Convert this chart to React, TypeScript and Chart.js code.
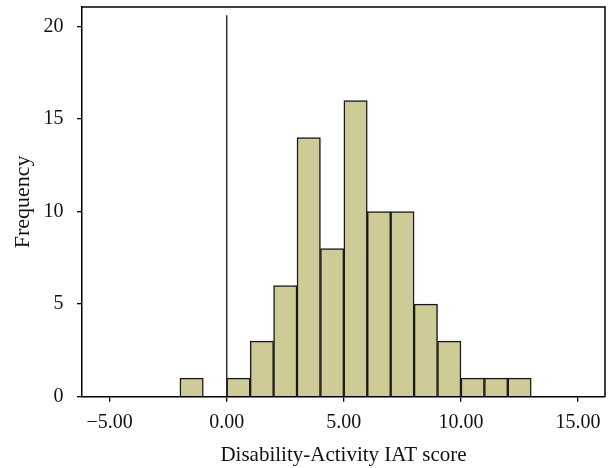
import React, { useEffect, useRef } from "react";
import { Chart, registerables } from "chart.js";

Chart.register(...registerables);

const binCenters = [-1.5, 0.5, 1.5, 2.5, 3.5, 4.5, 5.5, 6.5, 7.5, 8.5, 9.5, 10.5, 11.5, 12.5];
const frequencies = [1, 1, 3, 6, 14, 8, 16, 10, 10, 5, 3, 1, 1, 1];
const xTicks = [-5, 0, 5, 10, 15];
const yTicks = [0, 5, 10, 15, 20];
const refLineX = [0, 0];
const refLineY = [0, 20.6];
const xRange = [-6.18, 16.15];
const yRange = [0, 21.05];

const FONT = "'Liberation Serif', 'Times New Roman', serif";

const framePlugin = {
  id: "frame",
  afterDraw(chart: any) {
    const { ctx, chartArea } = chart;
    ctx.save();
    ctx.strokeStyle = "#000";
    ctx.lineWidth = 1.5;
    ctx.beginPath();
    ctx.moveTo(chartArea.left, chartArea.top);
    ctx.lineTo(chartArea.right, chartArea.top);
    ctx.lineTo(chartArea.right, chartArea.bottom);
    ctx.stroke();
    ctx.restore();
  },
};

export default function App() {
  const ref = useRef<HTMLCanvasElement | null>(null);

  useEffect(() => {
    document.body.style.margin = "0";
    const canvas = ref.current;
    if (!canvas) return;
    const chart = new Chart(canvas, {
      type: "bar",
      data: {
        datasets: [
          {
            type: "line",
            data: refLineX.map((x, i) => ({ x, y: refLineY[i] })),
            borderColor: "#222",
            borderWidth: 1.4,
            pointRadius: 0,
            fill: false,
            order: 0,
          } as any,
          {
            type: "bar",
            data: binCenters.map((x, i) => ({ x, y: frequencies[i] })),
            backgroundColor: "#CECB97",
            borderColor: "#1a1a1a",
            borderWidth: 1.5,
            barPercentage: 1,
            categoryPercentage: 1,
            grouped: false,
            order: 1,
          } as any,
        ],
      },
      options: {
        animation: false,
        responsive: false,
        maintainAspectRatio: false,
        layout: { padding: { top: 7, right: 4, left: 0, bottom: 0 } },
        plugins: { legend: { display: false }, tooltip: { enabled: false } },
        scales: {
          x: {
            type: "linear",
            min: xRange[0],
            max: xRange[1],
            offset: false,
            afterBuildTicks: (s: any) => {
              s.ticks = xTicks.map((v) => ({ value: v }));
            },
            afterFit: (s: any) => {
              s.height = 71.3;
              s.paddingLeft = 0;
              s.paddingRight = 0;
            },
            ticks: {
              color: "#111",
              font: { family: FONT, size: 20 },
              padding: 9,
              maxRotation: 0,
              autoSkip: false,
              callback: (v: any) => {
                const n = Number(v);
                const t = Math.abs(n).toFixed(2);
                return n < 0 ? "\u2212" + t : t;
              },
            },
            grid: {
              offset: false,
              drawOnChartArea: false,
              drawTicks: true,
              tickLength: 5,
              color: "#000",
              lineWidth: 1.3,
            },
            border: { display: true, color: "#000", width: 1.5 },
            title: {
              display: true,
              text: "Disability-Activity IAT score",
              color: "#111",
              font: { family: FONT, size: 21 },
              padding: { top: 0, bottom: 0 },
            },
          },
          y: {
            type: "linear",
            min: yRange[0],
            max: yRange[1],
            afterBuildTicks: (s: any) => {
              s.ticks = yTicks.map((v) => ({ value: v }));
            },
            afterFit: (s: any) => {
              s.width = 82;
              s.paddingTop = 0;
              s.paddingBottom = 0;
            },
            ticks: {
              color: "#111",
              font: { family: FONT, size: 20 },
              padding: 13.5,
              autoSkip: false,
              callback: (v: any) => String(v),
            },
            grid: {
              drawOnChartArea: false,
              drawTicks: true,
              tickLength: 5,
              color: "#000",
              lineWidth: 1.3,
            },
            border: { display: true, color: "#000", width: 1.5 },
            title: {
              display: true,
              text: "Frequency",
              color: "#111",
              font: { family: FONT, size: 22 },
              padding: { top: 9.7, bottom: 0 },
            },
          },
        },
      },
      plugins: [framePlugin],
    });
    return () => chart.destroy();
  }, []);

  return (
    <div style={{ width: 609, height: 468 }}>
      <canvas ref={ref} width={609} height={468} style={{ width: 609, height: 468, display: "block" }} />
    </div>
  );
}
